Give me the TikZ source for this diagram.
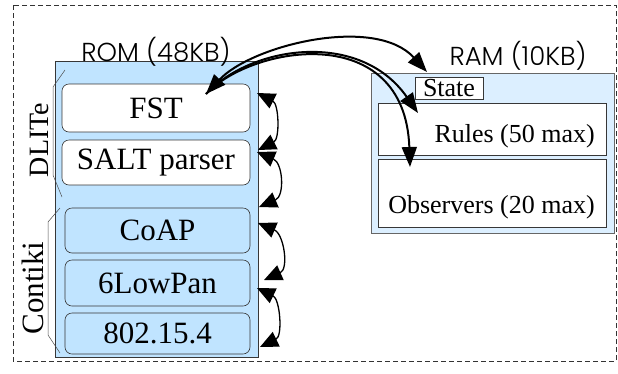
\documentclass[tikz,border=0pt]{standalone}
\usepackage{fontspec}
\setmainfont{Liberation Serif}
\newfontfamily\titlefont{Poppins Light}
\usetikzlibrary{arrows.meta}
\definecolor{romblue}{RGB}{192,228,255}
\definecolor{ramblue}{RGB}{220,239,255}
\definecolor{edgegray}{RGB}{55,55,55}
\begin{document}
\begin{tikzpicture}[x=1pt,y=-1pt,
  box/.style={draw=edgegray, line width=0.6pt, inner sep=0pt, outer sep=0pt},
  layer/.style={box, rounded corners=7pt, font=\fontsize{31}{31}\selectfont},
  ramtxt/.style={font=\fontsize{26}{26}\selectfont, inner sep=0pt},
  memtitle/.style={font=\titlefont\fontsize{26}{26}\selectfont, inner sep=0pt},
  sidebrace/.style={line width=0.5pt, draw=black!70},
  sidelabel/.style={rotate=90, anchor=base, inner sep=0pt},
  stackhead/.tip={Triangle[length=18pt,width=16pt]},
  memhead/.tip={Triangle[length=20pt,width=15pt]},
  stackarrow/.style={line width=1.3pt, stackhead-stackhead},
  memarrow/.style={line width=2pt, -memhead},
]
\useasboundingbox (0,0) rectangle (618,373);
\draw[line width=0.6pt, dash pattern=on 5pt off 3pt, draw=black!80] (13,5) rectangle (616,361);

% ROM
\node[box, fill=romblue, minimum width=203pt, minimum height=296pt] (rom) at (156.5,209) {};
\node[memtitle, anchor=base] (romtitle) at (156,61) {ROM (48KB)};
\node[layer, fill=white, minimum width=188pt, minimum height=48pt] (fst) at (156,108) {FST};
\node[layer, fill=white, minimum width=188pt, minimum height=45pt] (salt) at (156,162.5) {SALT parser};
\node[layer, fill=romblue, minimum width=185pt, minimum height=45pt] (coap) at (157.5,230.5) {CoAP};
\node[layer, fill=romblue, minimum width=185pt, minimum height=46pt] (lowpan) at (157.5,283) {6LowPan};
\node[layer, fill=romblue, minimum width=185pt, minimum height=41pt] (mac) at (157.5,333.5) {802.15.4};

% brackets
\draw[sidebrace] (65,70) -- (53,87) -- (53,175) -- (62,197);
\draw[sidebrace] (60,208) -- (48,222) -- (48,335) -- (60,353);
\node[sidelabel, font=\fontsize{28}{28}\selectfont] (dlite) at (48,140) {DLITe};
\node[sidelabel, font=\fontsize{31}{31}\selectfont] (contiki) at (43,288) {Contiki};

% RAM
\node[box, draw=black!60, fill=ramblue, minimum width=243pt, minimum height=160pt] (ram) at (492.5,153) {};
\node[memtitle, anchor=base] (ramtitle) at (518,65) {RAM (10KB)};
\node[box, fill=white, minimum width=68pt, minimum height=22pt, font=\fontsize{26}{26}\selectfont] (state) at (449,88) {State};
\node[box, fill=white, minimum width=228pt, minimum height=52pt] (rules) at (492,129) {};
\node[box, fill=white, minimum width=228pt, minimum height=68pt] (obs) at (492,193) {};
\node[ramtxt, anchor=base east] (rulestxt) at (595,142) {Rules (50 max)};
\node[ramtxt, anchor=base east] (obstxt) at (595,213) {Observers (20 max)};

% stack arrows
\coordinate (r1a) at (257,93);  \coordinate (r1b) at (258,150);
\coordinate (r2a) at (257,152); \coordinate (r2b) at (259,207);
\coordinate (r3a) at (258,223); \coordinate (r3b) at (264,280);
\coordinate (r4a) at (257,288); \coordinate (r4b) at (260,347);
\draw[stackarrow] (r1a) .. controls +(22,11) and +(22,-11) .. (r1b);
\draw[stackarrow] (r2a) .. controls +(26,11) and +(26,-11) .. (r2b);
\draw[stackarrow] (r3a) .. controls +(26,11) and +(25,-11) .. (r3b);
\draw[stackarrow] (r4a) .. controls +(23,11) and +(23,-11) .. (r4b);

% memory arrows
\coordinate (fstin) at (206,94);
\coordinate (statein) at (427,72);
\coordinate (rulesin) at (418,113);
\coordinate (obsin) at (410,167);
\draw[memarrow, memhead-memhead] (fstin) .. controls (252,45) and (375,15) .. (statein);
\draw[memarrow] (fstin) .. controls (252,45) and (360,30) .. (rulesin);
\draw[memarrow] (fstin) .. controls (252,45) and (405,20) .. (obsin);
\end{tikzpicture}
\end{document}
